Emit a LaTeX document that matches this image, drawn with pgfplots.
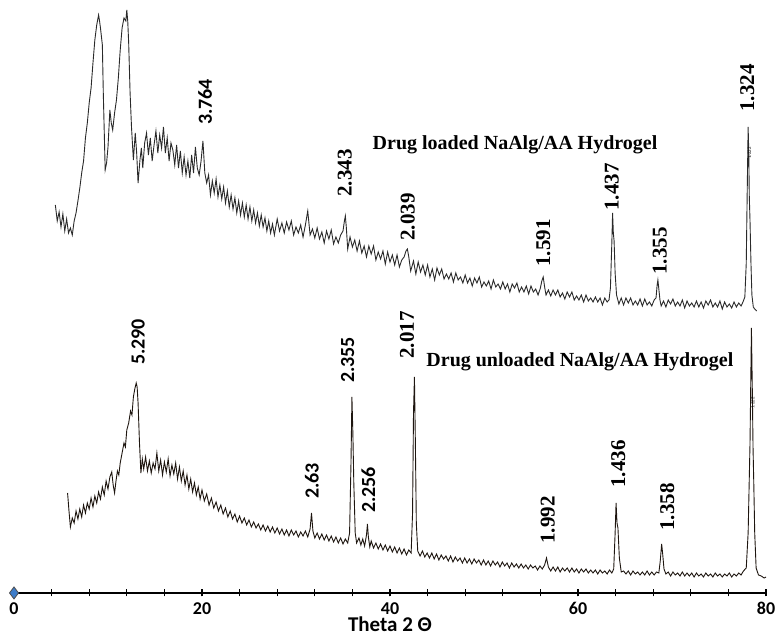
\documentclass[border=0pt]{standalone}
\usepackage{pgfplots}
\pgfplotsset{compat=1.18}
\usepackage{fontspec}
\setmainfont{Liberation Serif}
\newfontfamily\cali{Carlito}
\definecolor{dia}{HTML}{3D7CC9}
\definecolor{curveA}{HTML}{2A2A2A}
\definecolor{curveB}{HTML}{1E1610}
\begin{document}
\begin{tikzpicture}[
  sl/.style={rotate=90, font=\cali\bfseries\fontsize{20}{20}\selectfont, inner sep=0pt},
  rl/.style={rotate=90, font=\bfseries\fontsize{21}{21}\selectfont, inner sep=0pt}]
\useasboundingbox (-14pt,-46pt) rectangle (765pt,593pt);
\begin{axis}[
  at={(0pt,0pt)}, anchor=south west,
  scale only axis, width=752pt, height=593pt,
  xmin=0, xmax=80, ymin=0, ymax=593,
  axis x line=bottom, axis y line=none,
  axis line style={line width=2.2pt, -},
  xtick={0,20,40,60,80}, minor xtick={4,8,...,76},
  xticklabels={0,20,40,60,80},
  tick align=center, major tick length=7pt, minor tick length=7pt,
  tick style={line width=1.3pt, black},
  xticklabel style={font=\cali\bfseries\fontsize{18}{18}\selectfont, anchor=center, yshift=-12pt, inner sep=0pt, text height=11.5pt, text depth=0pt},
  xlabel={Theta 2 Θ},
  xlabel style={font=\cali\bfseries\fontsize{21}{21}\selectfont, at={(axis description cs:0.5,0)}, anchor=base, yshift=-39pt, inner sep=0pt, text height=14pt, text depth=0pt},
  clip=false,
]
% Drug loaded (top)
\addplot[curveA, line width=0.9pt] table[row sep=\\]{
x y\\
4.4 388\\ 4.6 372\\ 4.8 381\\ 5.0 366\\ 5.2 379\\ 5.4 362\\ 5.6 374\\ 5.8 360\\ 6.0 365\\ 6.2 358\\ 6.4 372\\ 6.6 380\\ 6.8 392\\ 7.0 405\\ 7.2 420\\ 7.4 432\\ 7.6 455\\ 7.8 470\\ 8.0 490\\ 8.2 505\\ 8.4 530\\ 8.6 553\\ 8.8 568\\ 9.0 578\\ 9.1 572\\ 9.2 565\\ 9.4 548\\ 9.5 500\\ 9.7 423\\ 9.85 430\\
10.0 446\\ 10.2 483\\ 10.35 470\\ 10.5 463\\ 10.7 480\\ 10.9 493\\ 11.1 515\\ 11.3 543\\ 11.5 565\\ 11.7 575\\ 11.9 572\\ 12.0 583\\ 12.1 572\\ 12.2 550\\ 12.35 500\\ 12.5 466\\ 12.7 433\\ 12.9 460\\ 13.05 440\\ 13.2 410\\ 13.4 433\\ 13.55 445\\ 13.7 425\\ 13.9 450\\
14.1 460\\ 14.3 438\\ 14.5 455\\ 14.7 432\\ 14.9 448\\ 15.1 462\\ 15.3 440\\ 15.5 458\\ 15.7 445\\ 15.9 466\\ 16.1 440\\ 16.3 455\\ 16.5 432\\ 16.7 450\\ 16.9 443\\ 17.1 428\\ 17.3 448\\ 17.5 425\\ 17.7 442\\ 17.9 420\\ 18.1 436\\ 18.3 418\\ 18.5 432\\ 18.7 415\\ 18.9 438\\ 19.1 420\\ 19.3 446\\ 19.5 425\\ 19.7 418\\ 19.9 432\\
20.1 452\\ 20.3 420\\ 20.5 410\\ 20.7 418\\ 20.9 398\\ 21.1 412\\ 21.3 400\\ 21.5 414\\ 21.7 396\\ 21.9 408\\ 22.1 394\\ 22.3 406\\ 22.5 390\\ 22.7 402\\ 22.9 386\\ 23.1 398\\ 23.3 384\\ 23.5 395\\ 23.7 380\\ 23.9 392\\ 24.1 378\\ 24.3 390\\ 24.5 376\\ 24.7 388\\ 24.9 374\\ 25.1 386\\ 25.3 372\\ 25.5 383\\ 25.7 370\\ 25.9 380\\
26.1 367\\ 26.3 378\\ 26.5 366\\ 26.7 375\\ 26.9 362\\ 27.1 372\\ 27.3 360\\ 27.5 369\\ 27.7 358\\ 28.0 374\\ 28.25 362\\ 28.5 370\\ 28.75 360\\ 29.0 371\\ 29.25 363\\ 29.5 372\\ 29.75 358\\ 30.0 366\\ 30.25 360\\ 30.5 368\\ 30.75 356\\ 31.0 368\\ 31.25 382\\ 31.5 358\\ 31.75 364\\ 32.0 355\\
32.25 365\\ 32.5 354\\ 32.75 361\\ 33.0 350\\ 33.25 362\\ 33.5 354\\ 33.75 363\\ 34.0 349\\ 34.25 356\\ 34.5 350\\ 34.75 358\\ 35.0 362\\ 35.15 372\\ 35.25 377\\ 35.35 366\\ 35.5 344\\ 35.75 356\\ 36.0 346\\ 36.25 353\\ 36.5 342\\ 36.75 352\\ 37.0 340\\ 37.25 347\\ 37.5 336\\ 37.75 347\\ 38.0 339\\
38.25 347\\ 38.5 333\\ 38.75 341\\ 39.0 334\\ 39.25 342\\ 39.5 329\\ 39.75 341\\ 40.0 331\\ 40.25 338\\ 40.5 328\\ 40.75 338\\ 41.0 326\\ 41.25 333\\ 41.5 336\\ 41.7 342\\ 41.85 344\\ 42.0 336\\ 42.2 322\\ 42.5 332\\ 42.75 319\\ 43.0 331\\ 43.25 321\\ 43.5 328\\ 43.75 318\\ 44.0 328\\ 44.25 316\\ 44.5 324\\ 44.75 313\\ 45.0 325\\
45.25 318\\ 45.5 324\\ 45.75 314\\ 46.0 319\\ 46.25 314\\ 46.5 320\\ 46.75 311\\ 47.0 320\\ 47.25 313\\ 47.5 316\\ 47.75 310\\ 48.0 318\\ 48.25 310\\ 48.5 315\\ 48.75 307\\ 49.0 315\\ 49.25 310\\ 49.5 316\\ 49.75 306\\ 50.0 311\\ 50.25 307\\ 50.5 312\\ 50.75 304\\ 51.0 313\\ 51.25 306\\ 51.5 309\\ 51.75 304\\ 52.0 311\\
52.25 304\\ 52.5 309\\ 52.75 301\\ 53.0 309\\ 53.25 305\\ 53.5 310\\ 53.75 301\\ 54.0 306\\ 54.25 301\\ 54.5 307\\ 54.75 299\\ 55.0 307\\ 55.25 301\\ 55.5 304\\ 55.75 298\\ 56.0 305\\ 56.15 312\\ 56.3 316\\ 56.45 306\\ 56.6 298\\ 56.85 303\\ 57.1 297\\ 57.35 303\\ 57.6 298\\ 57.85 303\\ 58.1 296\\ 58.35 300\\ 58.6 294\\
58.85 301\\ 59.1 296\\ 59.35 301\\ 59.6 293\\ 59.85 297\\ 60.1 293\\ 60.35 298\\ 60.6 291\\ 60.85 298\\ 61.1 292\\ 61.35 295\\ 61.6 291\\ 61.85 296\\ 62.1 291\\ 62.35 295\\ 62.6 288\\ 62.85 295\\ 63.1 291\\ 63.3 293\\ 63.45 305\\ 63.6 350\\ 63.68 380\\ 63.76 360\\ 63.84 352\\ 63.95 320\\ 64.1 298\\ 64.35 289\\
64.6 295\\ 64.85 288\\ 65.1 295\\ 65.35 290\\ 65.6 295\\ 65.85 288\\ 66.1 292\\ 66.35 288\\ 66.6 294\\ 66.85 287\\ 67.1 294\\ 67.35 288\\ 67.6 291\\ 67.85 287\\ 68.1 293\\ 68.3 295\\ 68.42 308\\ 68.5 313\\ 68.6 304\\ 68.72 293\\ 68.85 287\\ 69.1 292\\ 69.35 286\\ 69.6 293\\ 69.85 289\\ 70.1 294\\ 70.35 287\\
70.6 291\\ 70.85 287\\ 71.1 293\\ 71.35 285\\ 71.6 292\\ 71.85 287\\ 72.1 290\\ 72.35 286\\ 72.6 292\\ 72.85 286\\ 73.1 291\\ 73.35 285\\ 73.6 292\\ 73.85 288\\ 74.1 293\\ 74.35 286\\ 74.6 290\\ 74.85 286\\ 75.1 292\\ 75.35 284\\ 75.6 291\\ 75.85 286\\ 76.1 289\\ 76.35 285\\ 76.6 291\\ 76.85 286\\ 77.1 290\\
77.35 287\\ 77.55 291\\ 77.75 296\\ 77.9 330\\ 78.0 400\\ 78.1 466\\ 78.17 440\\ 78.22 398\\ 78.3 372\\ 78.4 330\\ 78.5 298\\ 78.65 286\\ 78.8 284\\ 79.0 282\\
};
% Drug unloaded (bottom)
\addplot[curveB, line width=0.9pt] table[row sep=\\]{
x y\\
5.7 100\\ 5.85 82\\ 6.0 66\\ 6.2 75\\ 6.4 70\\ 6.6 82\\ 6.8 74\\ 7.0 84\\ 7.2 76\\ 7.4 88\\ 7.6 80\\ 7.8 90\\ 8.0 84\\ 8.2 95\\ 8.4 86\\ 8.6 97\\ 8.8 90\\ 9.0 101\\ 9.2 94\\ 9.4 106\\ 9.6 98\\ 9.8 112\\ 10.0 104\\ 10.2 116\\ 10.4 121\\ 10.55 108\\ 10.7 100\\ 10.85 112\\
11.0 122\\ 11.15 118\\ 11.3 130\\ 11.5 140\\ 11.7 150\\ 11.85 146\\ 12.0 163\\ 12.2 170\\ 12.4 182\\ 12.55 178\\ 12.7 196\\ 12.85 204\\ 13.0 210\\ 13.1 206\\ 13.2 190\\ 13.35 150\\ 13.5 120\\ 13.65 134\\ 13.8 124\\ 14.0 136\\ 14.2 122\\ 14.4 132\\ 14.6 120\\ 14.8 130\\ 15.0 124\\ 15.2 140\\ 15.4 122\\
15.6 133\\ 15.8 118\\ 16.0 131\\ 16.2 121\\ 16.4 134\\ 16.6 117\\ 16.8 128\\ 17.0 119\\ 17.2 130\\ 17.4 114\\ 17.6 126\\ 17.8 112\\ 18.0 122\\ 18.2 108\\ 18.4 118\\ 18.6 104\\ 18.8 114\\ 19.0 101\\ 19.2 110\\ 19.4 98\\ 19.6 106\\ 19.8 94\\ 20.0 103\\ 20.25 92\\ 20.5 99\\ 20.75 88\\ 21.0 95\\
21.25 85\\ 21.5 91\\ 21.75 82\\ 22.0 88\\ 22.25 79\\ 22.5 85\\ 22.75 76\\ 23.0 82\\ 23.25 74\\ 23.5 79\\ 23.75 71\\ 24.0 77\\ 24.25 70\\ 24.5 75\\ 24.75 68\\ 25.0 73\\ 25.25 66\\ 25.5 71\\ 25.75 65\\ 26.0 69\\ 26.25 63\\ 26.5 68\\ 26.75 62\\ 27.0 67\\ 27.25 61\\ 27.5 66\\ 27.75 60\\
28.0 65\\ 28.25 59\\ 28.5 64\\ 28.75 58\\ 29.0 63\\ 29.25 57\\ 29.5 63\\ 29.75 58\\ 30.0 62\\ 30.25 56\\ 30.5 61\\ 30.75 57\\ 31.0 62\\ 31.25 56\\ 31.5 64\\ 31.65 80\\ 31.8 62\\ 32.0 55\\ 32.25 60\\ 32.5 54\\ 32.75 59\\ 33.0 53\\ 33.25 58\\ 33.5 52\\ 33.75 57\\ 34.0 51\\ 34.25 56\\
34.5 50\\ 34.75 55\\ 35.0 49\\ 35.25 54\\ 35.5 50\\ 35.7 60\\ 35.85 130\\ 35.95 196\\ 36.05 160\\ 36.15 110\\ 36.3 60\\ 36.45 50\\ 36.7 55\\ 36.9 48\\ 37.1 54\\ 37.3 47\\ 37.5 58\\ 37.6 69\\ 37.7 56\\ 37.85 46\\ 38.0 52\\ 38.25 45\\ 38.5 50\\ 38.75 44\\ 39.0 49\\ 39.25 43\\ 39.5 48\\
39.75 42\\ 40.0 47\\ 40.25 41\\ 40.5 46\\ 40.75 40\\ 41.0 45\\ 41.25 39\\ 41.5 44\\ 41.75 38\\ 42.0 43\\ 42.25 40\\ 42.4 80\\ 42.5 180\\ 42.6 216\\ 42.7 150\\ 42.8 70\\ 42.95 42\\ 43.2 37\\ 43.45 42\\ 43.7 36\\ 43.95 40\\ 44.2 35\\ 44.45 40\\ 44.7 34\\ 44.95 39\\ 45.2 33\\
45.45 38\\ 45.7 34\\ 45.95 37\\ 46.2 32\\ 46.45 37\\ 46.7 31\\ 46.95 36\\ 47.2 32\\ 47.45 35\\ 47.7 30\\ 47.95 35\\ 48.2 30\\ 48.45 34\\ 48.7 29\\ 48.95 34\\ 49.2 30\\ 49.45 33\\ 49.7 28\\ 49.95 33\\ 50.2 28\\ 50.45 32\\ 50.7 27\\ 50.95 32\\ 51.2 28\\ 51.45 31\\ 51.7 26\\
51.95 31\\ 52.2 27\\ 52.45 30\\ 52.7 25\\ 52.95 30\\ 53.2 26\\ 53.45 29\\ 53.7 25\\ 53.95 29\\ 54.2 25\\ 54.45 28\\ 54.7 24\\ 54.95 28\\ 55.2 25\\ 55.45 27\\ 55.7 23\\ 55.95 27\\ 56.2 24\\ 56.45 28\\ 56.65 35\\ 56.85 26\\ 57.1 22\\ 57.35 26\\ 57.6 22\\ 57.85 26\\ 58.1 21\\
58.35 25\\ 58.6 22\\ 58.85 25\\ 59.1 21\\ 59.35 25\\ 59.6 21\\ 59.85 24\\ 60.1 20\\ 60.35 24\\ 60.6 21\\ 60.85 24\\ 61.1 20\\ 61.35 23\\ 61.6 20\\ 61.85 23\\ 62.1 19\\ 62.35 23\\ 62.6 20\\ 62.85 22\\ 63.1 19\\ 63.35 23\\ 63.6 20\\ 63.8 24\\ 63.95 60\\ 64.05 90\\ 64.15 70\\
64.25 65\\ 64.4 35\\ 64.6 21\\ 64.85 22\\ 65.1 19\\ 65.35 22\\ 65.6 18\\ 65.85 22\\ 66.1 19\\ 66.35 21\\ 66.6 18\\ 66.85 21\\ 67.1 18\\ 67.35 22\\ 67.6 18\\ 67.85 21\\ 68.1 18\\ 68.35 21\\ 68.6 20\\ 68.75 32\\ 68.9 49\\ 69.0 40\\ 69.15 24\\ 69.35 19\\ 69.6 21\\ 69.85 17\\
70.1 21\\ 70.35 18\\ 70.6 20\\ 70.85 17\\ 71.1 21\\ 71.35 17\\ 71.6 20\\ 71.85 17\\ 72.1 20\\ 72.35 16\\ 72.6 20\\ 72.85 17\\ 73.1 19\\ 73.35 16\\ 73.6 20\\ 73.85 17\\ 74.1 19\\ 74.35 16\\ 74.6 20\\ 74.85 17\\ 75.1 19\\ 75.35 16\\ 75.6 19\\ 75.85 17\\ 76.1 20\\ 76.35 16\\
76.6 19\\ 76.85 17\\ 77.1 20\\ 77.35 18\\ 77.6 22\\ 77.9 25\\ 78.1 60\\ 78.3 150\\ 78.45 265\\ 78.55 200\\ 78.62 146\\ 78.7 110\\ 78.8 60\\ 78.95 25\\ 79.2 18\\ 79.5 17\\ 79.8 15\\ 80.0 16\\
};
% origin marker
\addplot[only marks, mark=diamond*, mark size=6pt, mark options={fill=dia, draw=black!70, line width=0.8pt}] coordinates {(0,0)};
% peak labels, top
\node[sl] at (axis cs:20.32,491) {3.764};
\node[rl] at (axis cs:35.2,420) {2.343};
\node[rl] at (axis cs:41.9,376) {2.039};
\node[rl] at (axis cs:56.3,350) {1.591};
\node[rl] at (axis cs:63.6,406) {1.437};
\node[rl] at (axis cs:68.7,342) {1.355};
\node[rl] at (axis cs:78.0,505) {1.324};
\node[rotate=90, font=\fontsize{5}{5}\selectfont, inner sep=0pt] at (axis cs:78.25,440) {1.222};
% peak labels, bottom
\node[sl] at (axis cs:13.2,251) {5.290};
\node[sl] at (axis cs:35.5,233) {2.355};
\node[sl] at (axis cs:31.7,112) {2.63};
\node[sl] at (axis cs:37.7,103) {2.256};
\node[rl] at (axis cs:41.8,258) {2.017};
\node[rl] at (axis cs:56.8,73) {1.992};
\node[rl] at (axis cs:64.3,129) {1.436};
\node[rl] at (axis cs:69.5,86) {1.358};
\node[rotate=90, font=\fontsize{5}{5}\selectfont, inner sep=0pt] at (axis cs:78.6,190) {1.222};
% titles
\node[font=\bfseries\fontsize{20}{20}\selectfont] at (axis cs:53.3,448) {Drug loaded NaAlg/AA Hydrogel};
\node[font=\bfseries\fontsize{20}{20}\selectfont] at (axis cs:60.2,231) {Drug unloaded NaAlg/AA Hydrogel};
\end{axis}
\end{tikzpicture}
\end{document}
